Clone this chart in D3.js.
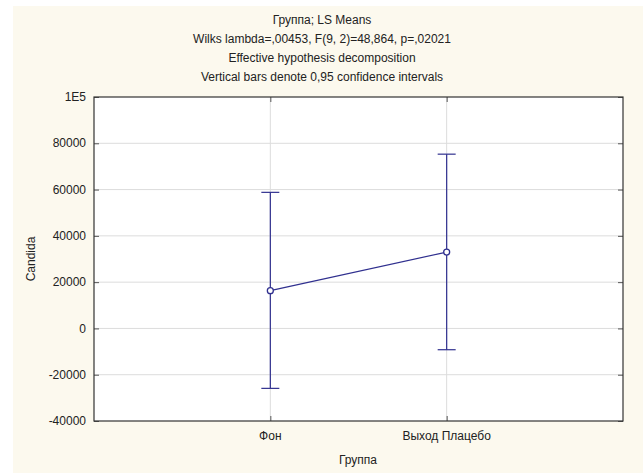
<!DOCTYPE html>
<html><head><meta charset="utf-8">
<script src="https://cdn.jsdelivr.net/npm/d3@7"></script>
<style>body{margin:0;background:#fff}svg{display:block}text{font-family:"Liberation Sans",Arial,sans-serif;fill:#222}</style>
</head><body>
<script>
const categories = ["Фон", "Выход Плацебо"];
const means = [16300, 33000];
const upper = [58800, 75300];
const lower = [-25900, -9200];
const yTicks = [-40000, -20000, 0, 20000, 40000, 60000, 80000, 100000];
const yTickLabels = ["-40000", "-20000", "0", "20000", "40000", "60000", "80000", "1E5"];
const titleLines = ["Группа; LS Means", "Wilks lambda=,00453, F(9, 2)=48,864, p=,02021", "Effective hypothesis decomposition", "Vertical bars denote 0,95 confidence intervals"];

const W = 643, H = 473;
const m = {l: 94, r: 623, t: 97, b: 421};
const svg = d3.select("body").append("svg").attr("width", W).attr("height", H);
svg.append("rect").attr("x", 13).attr("y", 6).attr("width", W - 13).attr("height", H - 6).attr("fill", "#fcf9ee");

const x = d3.scaleLinear().domain([0, categories.length + 1]).range([m.l, m.r]);
const y = d3.scaleLinear().domain([-40000, 100000]).range([m.b, m.t]);

svg.append("rect").attr("x", m.l).attr("y", m.t).attr("width", m.r - m.l).attr("height", m.b - m.t).attr("fill", "#fff");

// gridlines
const g = svg.append("g");
g.selectAll("line.h").data(yTicks.slice(1, -1)).join("line")
  .attr("x1", m.l).attr("x2", m.r).attr("y1", d => y(d)).attr("y2", d => y(d))
  .attr("stroke", "#dcdcdc").attr("stroke-width", 1);
g.selectAll("line.v").data(categories).join("line")
  .attr("x1", (d, i) => x(i + 1)).attr("x2", (d, i) => x(i + 1)).attr("y1", m.t).attr("y2", m.b)
  .attr("stroke", "#dcdcdc").attr("stroke-width", 1);

// axes with inward ticks
const yAxisL = d3.axisRight(y).tickValues(yTicks).tickSize(5).tickFormat("");
svg.append("g").attr("transform", `translate(${m.l},0)`).call(yAxisL).call(s => s.select(".domain").remove()).selectAll("line").attr("stroke", "#555");
const yAxisR = d3.axisLeft(y).tickValues(yTicks).tickSize(5).tickFormat("");
svg.append("g").attr("transform", `translate(${m.r},0)`).call(yAxisR).call(s => s.select(".domain").remove()).selectAll("line").attr("stroke", "#555");
const xt = categories.map((d, i) => i + 1);
svg.append("g").attr("transform", `translate(0,${m.b})`).call(d3.axisTop(x).tickValues(xt).tickSize(5).tickFormat("")).call(s => s.select(".domain").remove()).selectAll("line").attr("stroke", "#555");
svg.append("g").attr("transform", `translate(0,${m.t})`).call(d3.axisBottom(x).tickValues(xt).tickSize(5).tickFormat("")).call(s => s.select(".domain").remove()).selectAll("line").attr("stroke", "#555");

// frame
svg.append("rect").attr("x", m.l).attr("y", m.t).attr("width", m.r - m.l).attr("height", m.b - m.t)
  .attr("fill", "none").attr("stroke", "#333").attr("stroke-width", 1.2);

// y tick labels
svg.append("g").selectAll("text").data(yTicks).join("text")
  .attr("x", m.l - 8).attr("y", d => y(d)).attr("dy", "0.35em").attr("text-anchor", "end")
  .attr("font-size", 12).text((d, i) => yTickLabels[i]);
// x tick labels
svg.append("g").selectAll("text").data(categories).join("text")
  .attr("x", (d, i) => x(i + 1)).attr("y", 440).attr("text-anchor", "middle")
  .attr("font-size", 12).text(d => d);

// axis titles
svg.append("text").attr("x", 358).attr("y", 464).attr("text-anchor", "middle").attr("font-size", 12).text("Группа");
svg.append("text").attr("transform", "translate(35,259) rotate(-90)").attr("text-anchor", "middle").attr("font-size", 12).text("Candida");

// title
svg.append("g").selectAll("text").data(titleLines).join("text")
  .attr("x", 322).attr("y", (d, i) => 24 + i * 19).attr("text-anchor", "middle")
  .attr("font-size", 12).text(d => d);

// error bars
const col = "#30308f";
const eb = svg.append("g").attr("stroke", col).attr("stroke-width", 1.2);
categories.forEach((c, i) => {
  const cx = x(i + 1);
  eb.append("line").attr("x1", cx).attr("x2", cx).attr("y1", y(lower[i])).attr("y2", y(upper[i]));
  eb.append("line").attr("x1", cx - 9).attr("x2", cx + 9).attr("y1", y(lower[i])).attr("y2", y(lower[i]));
  eb.append("line").attr("x1", cx - 9).attr("x2", cx + 9).attr("y1", y(upper[i])).attr("y2", y(upper[i]));
});
const line = d3.line().x((d, i) => x(i + 1)).y(d => y(d));
svg.append("path").datum(means).attr("d", line).attr("fill", "none").attr("stroke", col).attr("stroke-width", 1.2);
svg.append("g").selectAll("circle").data(means).join("circle")
  .attr("cx", (d, i) => x(i + 1)).attr("cy", d => y(d)).attr("r", 3)
  .attr("fill", "#fff").attr("stroke", col).attr("stroke-width", 1.3);
</script>
</body></html>
